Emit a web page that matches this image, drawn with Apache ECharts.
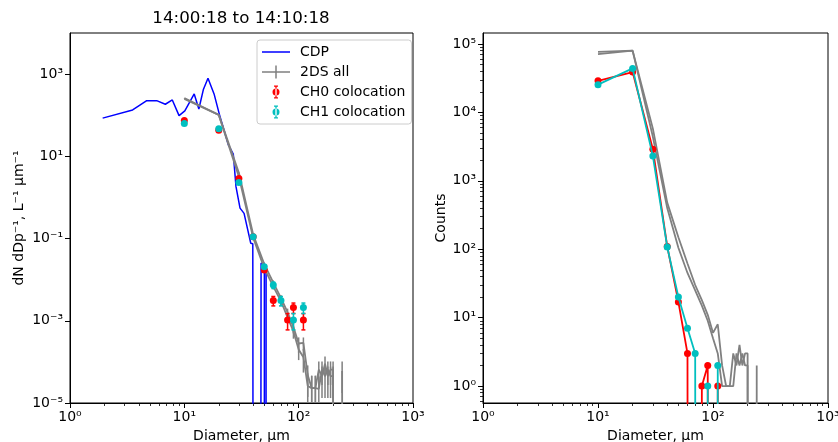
<!DOCTYPE html>
<html>
<head>
<meta charset="utf-8">
<title>14:00:18 to 14:10:18</title>
<script src="https://cdn.jsdelivr.net/npm/echarts@6/dist/echarts.min.js"></script>
<style>
  html, body { margin: 0; padding: 0; background: #fff; }
  #chart { width: 838px; height: 442px; }
</style>
</head>
<body>
<div id="chart"></div>
<script>
// CDP size distribution, dN/dDp (L^-1 um^-1), left panel
const cdpDiam = [1.93, 3.53, 4.69, 5.73, 6.82, 7.85, 8.99, 10.1, 12.2, 13.4, 14.7, 16.1, 18.2, 20.2,
                 24.3, 26.8, 28.3, 30.7, 33.3, 38.1, 39.7, 43, 46.9, 50.1, 51, 51.9];
const cdpConc = [85, 134, 226, 226, 185, 235, 98, 127, 330, 142, 430, 794, 330, 108,
                 18.9, 11.4, 1.83, 0.55, 0.41, 0.077, 0.075, 0, 0.025, 0.025, 0, 0.018];

// 2DS "all" bins (um), two channels
const twoDsDiam = [10, 20, 30, 40, 50, 60, 70, 80, 90, 100, 110, 120, 130, 140, 150, 160, 170, 180,
                   190, 200, 210, 220, 230, 240, 250];
const twoDsConcA = [260, 102, 4.0, 0.125, 0.024, 0.0085, 0.0036, 0.0016, 7.0e-4, 2.8e-4, 2.9e-4, 4.8e-5,
                    2.3e-5, 2.3e-5, 6.5e-5, 4.5e-5, 9e-5, 4.5e-5, 6.5e-5, 6.5e-5, 0, 0, 0, 6e-5, 0];
const twoDsConcB = [250, 102, 3.2, 0.105, 0.019, 0.0068, 0.0030, 0.0012, 5.5e-4, 2.0e-4, 1.3e-4, 2.6e-5,
                    2.3e-5, 2.3e-5, 2.2e-5, 6.5e-5, 4.5e-5, 6.5e-5, 4.5e-5, 4.5e-5, 0, 0, 0, 0, 0];
const twoDsCountsA = [77000, 80000, 5800, 480, 150, 62, 30, 18, 11, 6, 8, 2, 1, 1, 3, 2, 4, 2, 3, 3, 0, 0, 0, 2, 0];
const twoDsCountsB = [71000, 80000, 4400, 400, 105, 45, 25, 15, 9, 5, 3, 1, 1, 1, 1, 3, 2, 3, 2, 2, 0, 0, 0, 0, 0];

// colocation bins (um)
const coloDiam = [10, 20, 30, 40, 50, 60, 70, 80, 90, 100, 110];
const ch0Conc = [74, 43, 2.9, 0.11, 0.0172, 0.0031, 0, 0.00105, 0.0021, 0, 0.00105];
const ch0Err = [0.2, 0.1, 0.025, 0.005, 0.0019, 0.0008, 0, 0.00045, 0.0006, 0, 0.00045];
const ch1Conc = [63, 47, 2.3, 0.111, 0.0207, 0.0074, 0.0031, 0, 0.00105, 0, 0.0021];
const ch1Err = [0.2, 0.1, 0.02, 0.005, 0.0021, 0.0013, 0.0008, 0, 0.00045, 0, 0.0006];
const ch0Counts = [29000, 39000, 2900, 110, 17, 3, 0, 1, 2, 0, 1];
const ch1Counts = [25500, 44000, 2300, 108, 20, 7, 3, 0, 1, 0, 2];

const leftYTicks = [1e-5, 1e-3, 1e-1, 1e1, 1e3];
const rightYTicks = [1, 10, 100, 1e3, 1e4, 1e5];

const FONT = 'DejaVu Sans';
const BLUE = '#0000ff', GREY = '#808080', RED = '#ff0000', CYAN = '#00bfbf';
const FLOOR = 1e-100; // zeros sit far below the log axis, like matplotlib clipping

const SUP = { '-': '\u207b', '0': '\u2070', '1': '\u00b9', '2': '\u00b2', '3': '\u00b3', '4': '\u2074',
              '5': '\u2075', '6': '\u2076', '7': '\u2077', '8': '\u2078', '9': '\u2079' };
function pow10Label(v) {
    const e = String(Math.round(Math.log10(v)));
    return '10' + e.split('').map(c => SUP[c]).join('');
}

function linePoints(xs, ys) {
    return xs.map((x, i) => ys[i] > 0 ? [x, ys[i]] : { value: [x, FLOOR], symbol: 'none' });
}

function errPoints(xs, ys, errs) {
    const out = [];
    xs.forEach((x, i) => {
        if (ys[i] > 0) {
            const lo = ys[i] - errs[i];
            out.push([x, lo > 0 ? lo : FLOOR, ys[i] + errs[i]]);
        }
    });
    return out;
}

// poisson style bars for the 2DS curves
function twoDsErrs(conc, counts) {
    return conc.map((v, i) => counts[i] > 0 ? v / Math.sqrt(counts[i]) : 0);
}

function errorBar(capHalf, width) {
    return function (params, api) {
        const x = api.value(0);
        const top = api.coord([x, api.value(2)]);
        const bot = api.coord([x, api.value(1)]);
        const style = { stroke: api.visual('color'), lineWidth: width };
        const kids = [{ type: 'line', shape: { x1: top[0], y1: top[1], x2: bot[0], y2: bot[1] }, style: style }];
        if (capHalf > 0) {
            kids.push({ type: 'line', shape: { x1: top[0] - capHalf, y1: top[1], x2: top[0] + capHalf, y2: top[1] }, style: style });
            kids.push({ type: 'line', shape: { x1: bot[0] - capHalf, y1: bot[1], x2: bot[0] + capHalf, y2: bot[1] }, style: style });
        }
        return { type: 'group', children: kids };
    };
}

// minor ticks for the counts axis
const rightMinor = [];
for (let n = -1; n <= 5; n++) {
    for (let k = 2; k <= 9; k++) {
        const v = k * Math.pow(10, n);
        if (v > 0.565 && v < 1.45e5) rightMinor.push(v);
    }
}

// legend handles drawn in a 33x14 box (the last 5px are empty space)
const corners = 'M0,0h0.01v0.01h-0.01z M32.99,13.99h0.01v0.01h-0.01z ';
const iconLine = 'path://' + corners + 'M0,6.25h28v1.5h-28z';
const iconCross = 'path://' + corners + 'M0,6.25h28v1.5h-28z M13.25,0.5h1.5v13h-1.5z';
const iconDot = 'path://' + corners +
    'M10.5,7a3.5,3.5 0 1,0 7,0a3.5,3.5 0 1,0 -7,0z M13.35,0.5h1.3v13h-1.3z M12,0.5h4v1.2h-4z M12,12.3h4v1.2h-4z';

const textStyle = { fontSize: 14, color: '#000', fontFamily: FONT };

function xAxisFor(gridIndex) {
    return {
        type: 'log', gridIndex: gridIndex, min: 1, max: 1000, logBase: 10,
        name: 'Diameter, \u03bcm', nameLocation: 'middle', nameGap: 22, nameTextStyle: textStyle,
        axisLine: { show: true, lineStyle: { color: '#000', width: 1 } },
        axisTick: { show: true, length: 5, lineStyle: { color: '#000', width: 1 } },
        minorTick: { show: true, splitNumber: 9, length: 3, lineStyle: { color: '#000', width: 0.8 } },
        axisLabel: Object.assign({ formatter: pow10Label, margin: 7, showMinLabel: true, showMaxLabel: true }, textStyle),
        splitLine: { show: false }, minorSplitLine: { show: false }
    };
}

function yAxisFor(gridIndex, min, max, ticks, name, gap) {
    return {
        type: 'log', gridIndex: gridIndex, min: min, max: max, logBase: 10,
        name: name, nameLocation: 'middle', nameGap: gap, nameRotate: 90, nameTextStyle: textStyle,
        axisLine: { show: true, lineStyle: { color: '#000', width: 1 } },
        axisTick: { show: true, customValues: ticks, length: 5, lineStyle: { color: '#000', width: 1 } },
        minorTick: { show: false },
        axisLabel: Object.assign({ customValues: ticks, formatter: pow10Label, margin: 7 }, textStyle),
        splitLine: { show: false }
    };
}

const rightMinorAxis = {
    type: 'log', gridIndex: 1, position: 'left', offset: 0, min: 0.565, max: 1.45e5, logBase: 10,
    axisLine: { show: false },
    axisTick: { show: true, customValues: rightMinor, length: 3, lineStyle: { color: '#000', width: 0.8 } },
    axisLabel: { show: false }, splitLine: { show: false }
};

const chart = echarts.init(document.getElementById('chart'));
chart.setOption({
    animation: false,
    backgroundColor: '#fff',
    title: {
        text: '14:00:18 to 14:10:18', left: 241, top: 10, padding: 0, textAlign: 'center',
        textStyle: { fontSize: 16.7, fontWeight: 'normal', color: '#000', fontFamily: FONT }
    },
    legend: {
        left: 257, top: 40, orient: 'vertical', itemWidth: 33, itemHeight: 14, itemGap: 6,
        padding: [5, 6, 5, 5], borderColor: '#cccccc', borderWidth: 1, borderRadius: 3,
        backgroundColor: 'rgba(255,255,255,0.8)', textStyle: textStyle, selectedMode: false, z: 10,
        data: [
            { name: 'CDP', icon: iconLine },
            { name: '2DS all', icon: iconCross },
            { name: 'CH0 colocation', icon: iconDot },
            { name: 'CH1 colocation', icon: iconDot }
        ]
    },
    grid: [
        { left: 70, top: 33, width: 343, height: 370, show: true, borderColor: '#000', borderWidth: 1, outerBoundsMode: 'none' },
        { left: 483, top: 33, width: 345, height: 370, show: true, borderColor: '#000', borderWidth: 1, outerBoundsMode: 'none' }
    ],
    xAxis: [xAxisFor(0), xAxisFor(1)],
    yAxis: [
        yAxisFor(0, 1e-5, 1e4, leftYTicks, 'dN dDp\u207b\u00b9, L\u207b\u00b9 \u03bcm\u207b\u00b9', 44),
        yAxisFor(1, 0.565, 1.45e5, rightYTicks, 'Counts', 35),
        rightMinorAxis
    ],
    series: [
        // left panel
        { name: 'CDP', type: 'line', xAxisIndex: 0, yAxisIndex: 0, z: 2, data: linePoints(cdpDiam, cdpConc),
          showSymbol: false, symbol: 'none', color: BLUE, lineStyle: { color: BLUE, width: 1.5 }, clip: true },
        { name: '2DS all', type: 'line', xAxisIndex: 0, yAxisIndex: 0, z: 2, data: linePoints(twoDsDiam, twoDsConcA),
          symbol: 'none', color: GREY, lineStyle: { color: GREY, width: 1.8 }, clip: true },
        { name: '2DS all', type: 'line', xAxisIndex: 0, yAxisIndex: 0, z: 2, data: linePoints(twoDsDiam, twoDsConcB),
          symbol: 'none', color: GREY, lineStyle: { color: GREY, width: 1.8 }, clip: true },
        { name: '2DS all', type: 'custom', xAxisIndex: 0, yAxisIndex: 0, z: 2, clip: true, itemStyle: { color: GREY },
          renderItem: errorBar(0, 1.5),
          data: errPoints(twoDsDiam, twoDsConcA, twoDsErrs(twoDsConcA, twoDsCountsA))
                .concat(errPoints(twoDsDiam, twoDsConcB, twoDsErrs(twoDsConcB, twoDsCountsB))) },
        { name: 'CH0 colocation', type: 'custom', xAxisIndex: 0, yAxisIndex: 0, z: 3, clip: true, itemStyle: { color: RED },
          renderItem: errorBar(2, 1.5), data: errPoints(coloDiam, ch0Conc, ch0Err) },
        { name: 'CH0 colocation', type: 'scatter', xAxisIndex: 0, yAxisIndex: 0, z: 4, symbol: 'circle', symbolSize: 7,
          itemStyle: { color: RED, opacity: 1 }, data: coloDiam.map((x, i) => [x, ch0Conc[i]]).filter(p => p[1] > 0) },
        { name: 'CH1 colocation', type: 'custom', xAxisIndex: 0, yAxisIndex: 0, z: 5, clip: true, itemStyle: { color: CYAN },
          renderItem: errorBar(2, 1.5), data: errPoints(coloDiam, ch1Conc, ch1Err) },
        { name: 'CH1 colocation', type: 'scatter', xAxisIndex: 0, yAxisIndex: 0, z: 6, symbol: 'circle', symbolSize: 7,
          itemStyle: { color: CYAN, opacity: 1 }, data: coloDiam.map((x, i) => [x, ch1Conc[i]]).filter(p => p[1] > 0) },

        // right panel
        { name: '2DS counts A', type: 'line', xAxisIndex: 1, yAxisIndex: 1, z: 2, data: linePoints(twoDsDiam, twoDsCountsA),
          symbol: 'none', color: GREY, lineStyle: { color: GREY, width: 1.8 }, clip: true },
        { name: '2DS counts B', type: 'line', xAxisIndex: 1, yAxisIndex: 1, z: 2, data: linePoints(twoDsDiam, twoDsCountsB),
          symbol: 'none', color: GREY, lineStyle: { color: GREY, width: 1.8 }, clip: true },
        { name: 'CH0 counts', type: 'line', xAxisIndex: 1, yAxisIndex: 1, z: 3, data: linePoints(coloDiam, ch0Counts),
          symbol: 'circle', symbolSize: 7, showAllSymbol: true, color: RED,
          itemStyle: { color: RED }, lineStyle: { color: RED, width: 1.8 }, clip: true },
        { name: 'CH1 counts', type: 'line', xAxisIndex: 1, yAxisIndex: 1, z: 4, data: linePoints(coloDiam, ch1Counts),
          symbol: 'circle', symbolSize: 7, showAllSymbol: true, color: CYAN,
          itemStyle: { color: CYAN }, lineStyle: { color: CYAN, width: 1.8 }, clip: true }
    ]
});
</script>
</body>
</html>
